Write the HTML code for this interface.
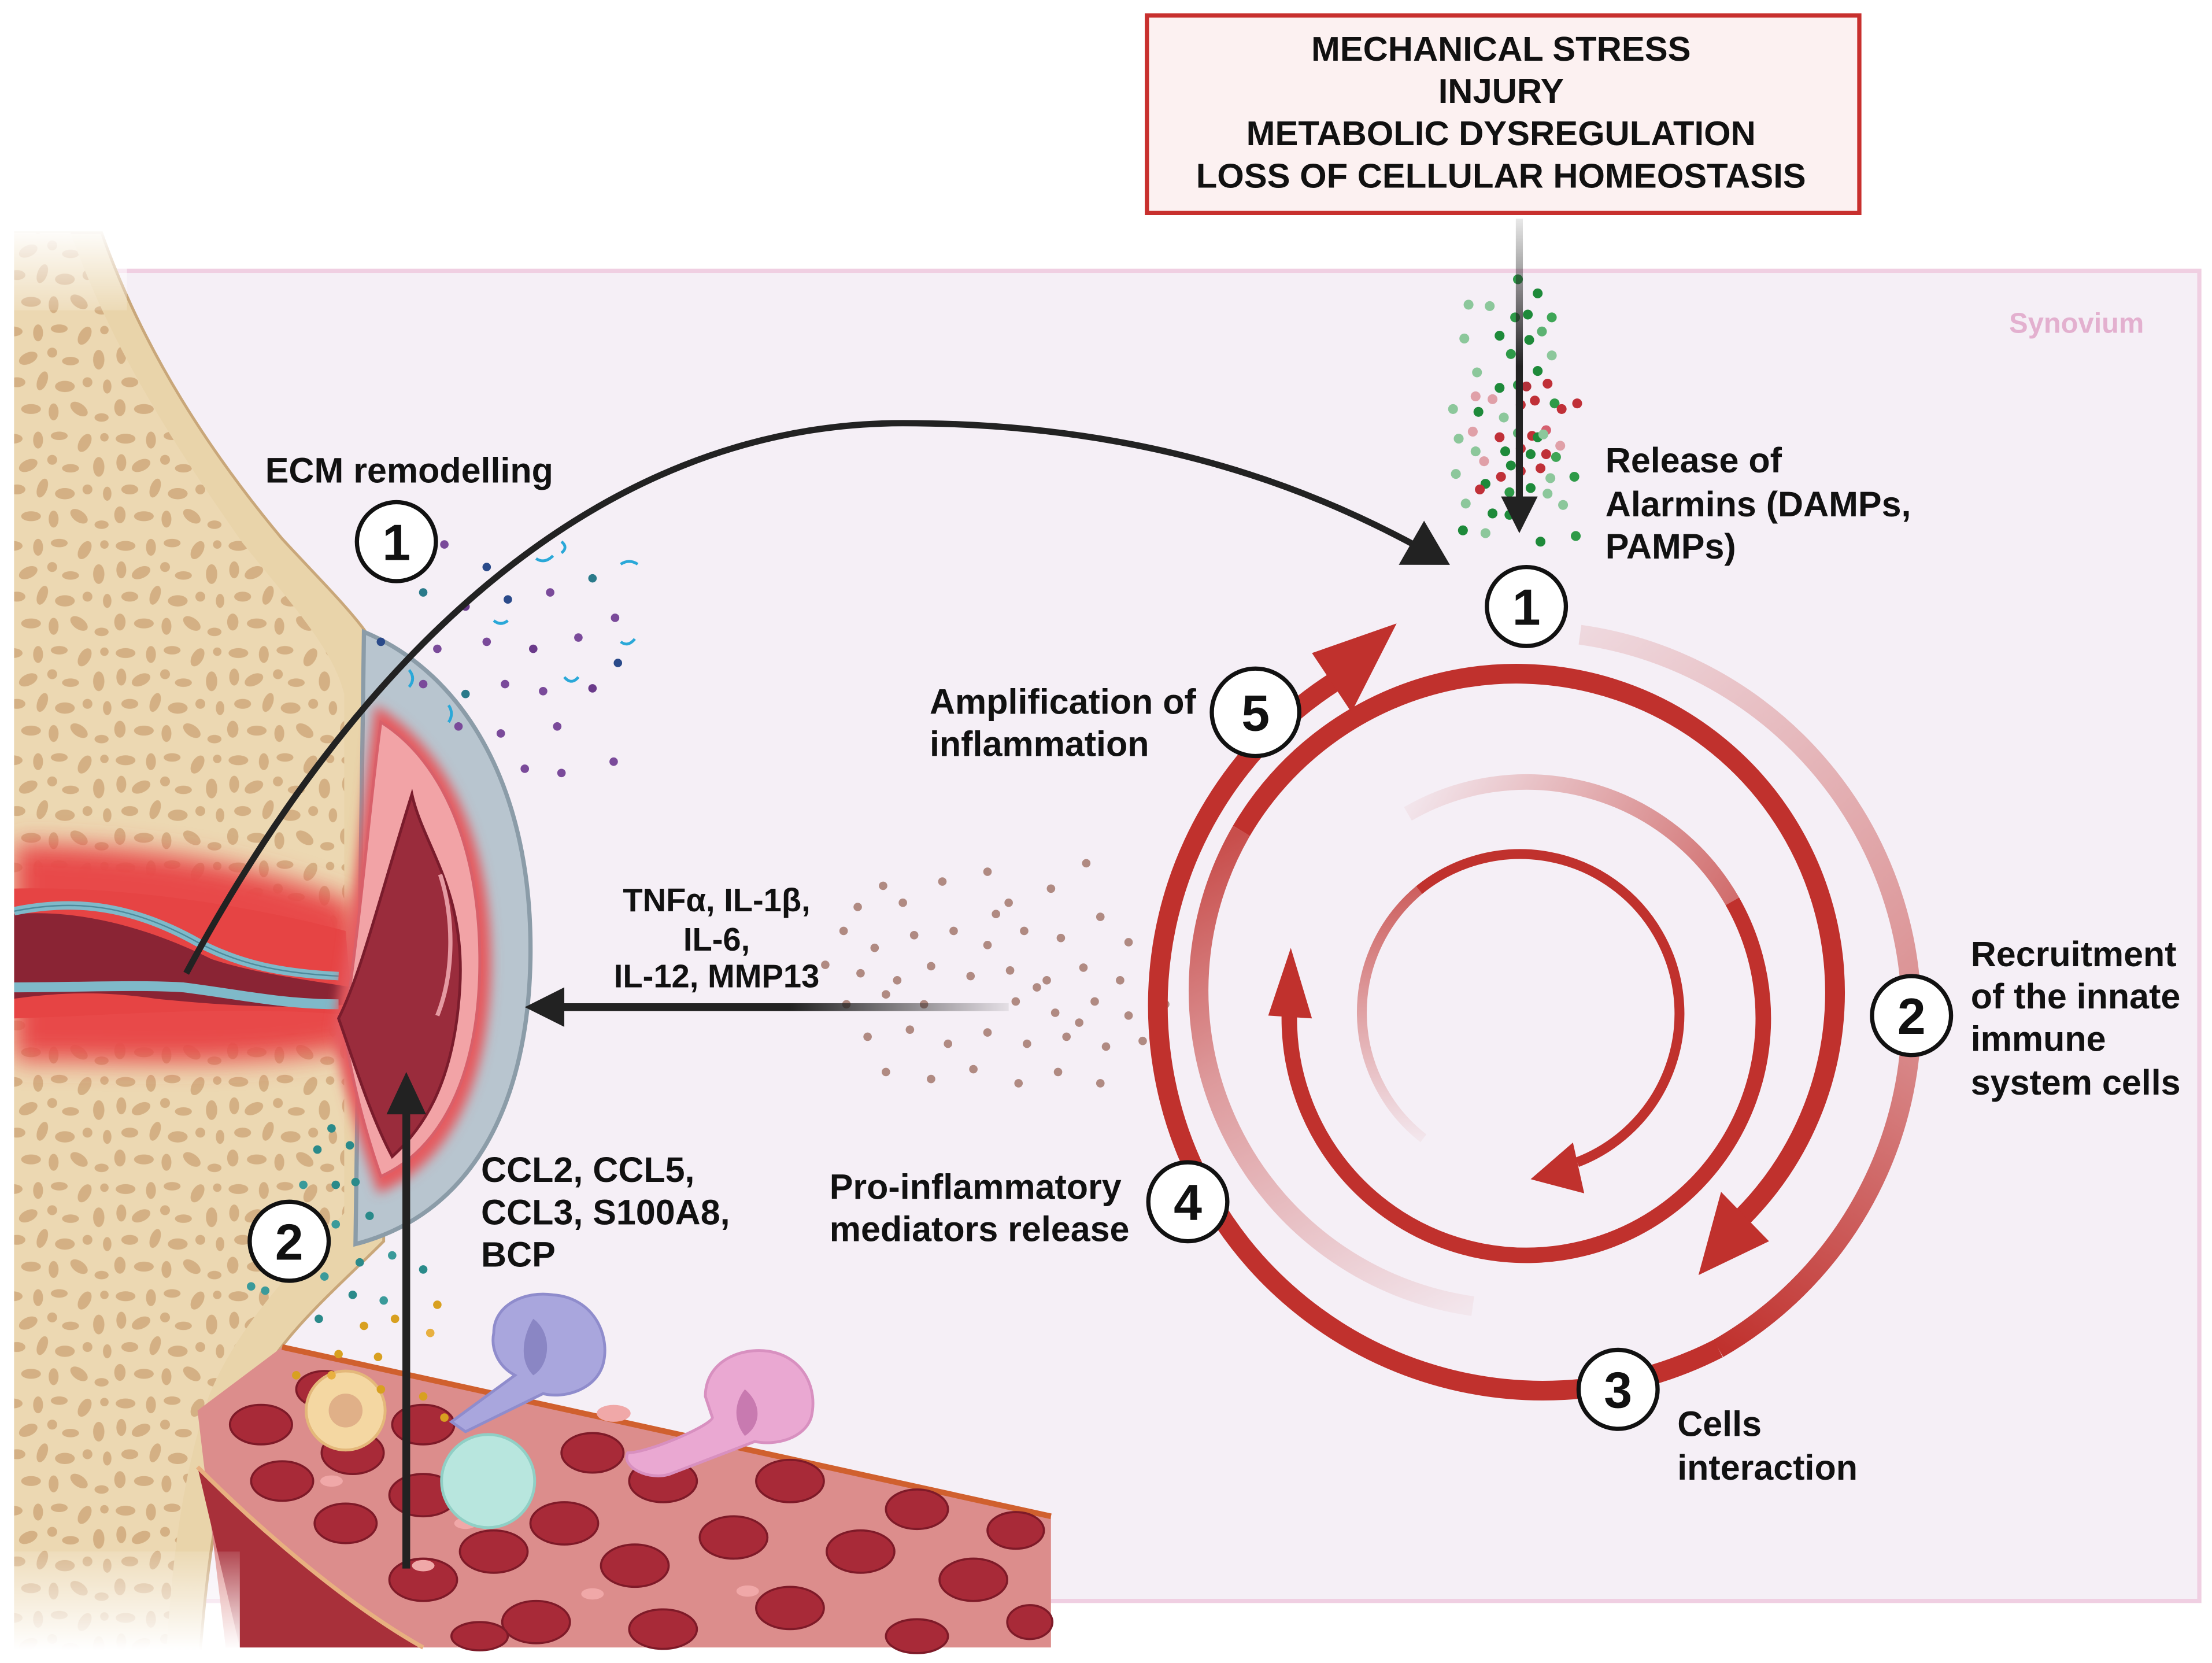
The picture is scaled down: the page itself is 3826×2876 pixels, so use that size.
<!DOCTYPE html>
<html><head><meta charset="utf-8"><style>
html,body{margin:0;padding:0;background:#fff;}
svg{display:block;}
text{font-family:"Liberation Sans",Arial,sans-serif;font-weight:bold;}
</style></head><body>
<svg width="3826" height="2876" viewBox="0 0 1568 1179" preserveAspectRatio="none" xmlns="http://www.w3.org/2000/svg">
<defs>
<pattern id="sp" width="80" height="76" patternUnits="userSpaceOnUse">
<rect width="80" height="76" fill="#ecd8b2"/>
<g fill="#d4b084">
<ellipse cx="9" cy="7" rx="7" ry="3.5"/><ellipse cx="27" cy="8" rx="3.5" ry="6"/><ellipse cx="42" cy="5" rx="6" ry="3"/><ellipse cx="60" cy="10" rx="4" ry="7" transform="rotate(30 60 10)"/><circle cx="74" cy="6" r="3"/>
<ellipse cx="6" cy="24" rx="3.5" ry="6"/><ellipse cx="20" cy="26" rx="7" ry="4" transform="rotate(-25 20 26)"/><circle cx="37" cy="22" r="3.5"/><ellipse cx="50" cy="28" rx="6" ry="3"/><ellipse cx="70" cy="27" rx="4" ry="7"/>
<ellipse cx="12" cy="43" rx="6" ry="3.5"/><ellipse cx="30" cy="42" rx="3.5" ry="7" transform="rotate(20 30 42)"/><ellipse cx="46" cy="46" rx="7" ry="4"/><circle cx="62" cy="43" r="3.5"/><ellipse cx="76" cy="46" rx="3" ry="5"/>
<ellipse cx="5" cy="61" rx="4" ry="6"/><ellipse cx="22" cy="62" rx="7" ry="3.5"/><ellipse cx="38" cy="64" rx="3.5" ry="6"/><ellipse cx="56" cy="62" rx="7" ry="4" transform="rotate(35 56 62)"/><ellipse cx="72" cy="68" rx="5" ry="3"/>
</g>
</pattern>
<filter id="bl" x="-30%" y="-30%" width="160%" height="160%"><feGaussianBlur stdDeviation="9"/></filter>
<filter id="bl2" x="-30%" y="-30%" width="160%" height="160%"><feGaussianBlur stdDeviation="4"/></filter>
<linearGradient id="gTop" x1="0" y1="155" x2="0" y2="260" gradientUnits="userSpaceOnUse"><stop offset="0" stop-color="#222" stop-opacity="0.1"/><stop offset="1" stop-color="#222"/></linearGradient>
<linearGradient id="gH" x1="720" y1="0" x2="560" y2="0" gradientUnits="userSpaceOnUse"><stop offset="0" stop-color="#222" stop-opacity="0.05"/><stop offset="1" stop-color="#222"/></linearGradient>
<linearGradient id="gO1" x1="1120" y1="450" x2="1355" y2="720" gradientUnits="userSpaceOnUse"><stop offset="0" stop-color="#c0312d" stop-opacity="0.12"/><stop offset="1" stop-color="#c0312d" stop-opacity="0.5"/></linearGradient>
<linearGradient id="gO2" x1="1355" y1="720" x2="1218" y2="956" gradientUnits="userSpaceOnUse"><stop offset="0" stop-color="#c0312d" stop-opacity="0.5"/><stop offset="1" stop-color="#c0312d"/></linearGradient>
<linearGradient id="gM1" x1="1044" y1="926" x2="880" y2="589" gradientUnits="userSpaceOnUse"><stop offset="0" stop-color="#c0312d" stop-opacity="0.05"/><stop offset="0.6" stop-color="#c0312d" stop-opacity="0.45"/><stop offset="1" stop-color="#c0312d" stop-opacity="0.85"/></linearGradient>
<linearGradient id="gR1" x1="996" y1="574" x2="1250" y2="723" gradientUnits="userSpaceOnUse"><stop offset="0" stop-color="#c0312d" stop-opacity="0.05"/><stop offset="1" stop-color="#c0312d" stop-opacity="0.85"/></linearGradient>
<linearGradient id="gI1" x1="1009" y1="807" x2="1006" y2="631" gradientUnits="userSpaceOnUse"><stop offset="0" stop-color="#c0312d" stop-opacity="0.05"/><stop offset="1" stop-color="#c0312d" stop-opacity="0.75"/></linearGradient>
<linearGradient id="fadeTop" x1="0" y1="160" x2="0" y2="230" gradientUnits="userSpaceOnUse"><stop offset="0" stop-color="#fff"/><stop offset="1" stop-color="#fff" stop-opacity="0"/></linearGradient>
<linearGradient id="fadeBot" x1="0" y1="1170" x2="0" y2="1090" gradientUnits="userSpaceOnUse"><stop offset="0" stop-color="#fff"/><stop offset="1" stop-color="#fff" stop-opacity="0"/></linearGradient>
<marker id="ah" markerWidth="8" markerHeight="8" refX="5" refY="4" orient="auto" markerUnits="strokeWidth"><path d="M0,0 L7,4 L0,8 Z" fill="#222"/></marker>
</defs>

<rect width="1568" height="1179" fill="#fff"/>
<rect x="65" y="192" width="1494" height="943" fill="#f5eff6" stroke="#f0cfe2" stroke-width="3"/>
<text x="1472" y="236" font-size="20" fill="#e3b0cf" text-anchor="middle">Synovium</text>

<rect x="813" y="11" width="505" height="140" fill="#fcf1f1" stroke="#c8302e" stroke-width="3"/>
<g font-size="24.5" fill="#111" text-anchor="middle">
<text x="1064" y="43">MECHANICAL STRESS</text>
<text x="1064" y="73">INJURY</text>
<text x="1064" y="103">METABOLIC DYSREGULATION</text>
<text x="1064" y="133">LOSS OF CELLULAR HOMEOSTASIS</text>
</g>

<g>
<circle cx="1076" cy="198" r="3.5" fill="#2e9a48"/><circle cx="1090" cy="208" r="3.5" fill="#1e8a3a"/>
<circle cx="1041" cy="216" r="3.5" fill="#8cc79b"/><circle cx="1056" cy="217" r="3.5" fill="#8cc79b"/>
<circle cx="1074" cy="225" r="3.5" fill="#2e9a48"/><circle cx="1083" cy="223" r="3.5" fill="#1e8a3a"/><circle cx="1100" cy="225" r="3.5" fill="#3ea556"/>
<circle cx="1038" cy="240" r="3.5" fill="#8cc79b"/><circle cx="1063" cy="238" r="3.5" fill="#1e8a3a"/><circle cx="1084" cy="241" r="3.5" fill="#1e8a3a"/><circle cx="1093" cy="235" r="3.5" fill="#5cb272"/>
<circle cx="1071" cy="251" r="3.5" fill="#2e9a48"/><circle cx="1100" cy="252" r="3.5" fill="#8cc79b"/>
<circle cx="1047" cy="264" r="3.5" fill="#8cc79b"/><circle cx="1090" cy="263" r="3.5" fill="#1e8a3a"/><circle cx="1082" cy="274" r="3.5" fill="#b3303a"/>
<circle cx="1063" cy="275" r="3.5" fill="#1e8a3a"/><circle cx="1076" cy="273" r="3.5" fill="#2e9a48"/><circle cx="1097" cy="272" r="3.5" fill="#c03038"/>
<circle cx="1046" cy="281" r="3.5" fill="#e0a0a8"/><circle cx="1058" cy="283" r="3.5" fill="#e0a0a8"/><circle cx="1088" cy="284" r="3.5" fill="#c03038"/><circle cx="1078" cy="287" r="3.5" fill="#c03038"/><circle cx="1102" cy="286" r="3.5" fill="#2e9a48"/><circle cx="1107" cy="290" r="3.5" fill="#c03038"/>
<circle cx="1048" cy="292" r="3.5" fill="#1e8a3a"/><circle cx="1066" cy="296" r="3.5" fill="#8cc79b"/><circle cx="1096" cy="305" r="3.5" fill="#d66070"/>
<circle cx="1034" cy="311" r="3.5" fill="#8cc79b"/><circle cx="1044" cy="306" r="3.5" fill="#e0a0a8"/><circle cx="1063" cy="310" r="3.5" fill="#c03038"/><circle cx="1076" cy="307" r="3.5" fill="#5cb272"/><circle cx="1086" cy="309" r="3.5" fill="#c03038"/><circle cx="1090" cy="310" r="3.5" fill="#1e8a3a"/><circle cx="1094" cy="308" r="3.5" fill="#8cc79b"/>
<circle cx="1046" cy="320" r="3.5" fill="#8cc79b"/><circle cx="1067" cy="320" r="3.5" fill="#1e8a3a"/><circle cx="1078" cy="318" r="3.5" fill="#c03038"/><circle cx="1085" cy="322" r="3.5" fill="#1e8a3a"/><circle cx="1106" cy="316" r="3.5" fill="#e0a0a8"/><circle cx="1096" cy="322" r="3.5" fill="#c03038"/><circle cx="1103" cy="324" r="3.5" fill="#3ea556"/>
<circle cx="1052" cy="327" r="3.5" fill="#e0a0a8"/><circle cx="1071" cy="330" r="3.5" fill="#1e8a3a"/><circle cx="1092" cy="332" r="3.5" fill="#c03038"/><circle cx="1099" cy="339" r="3.5" fill="#8cc79b"/><circle cx="1064" cy="338" r="3.5" fill="#c03038"/><circle cx="1078" cy="334" r="3.5" fill="#c03038"/>
<circle cx="1032" cy="336" r="3.5" fill="#8cc79b"/><circle cx="1053" cy="343" r="3.5" fill="#1e8a3a"/><circle cx="1049" cy="347" r="3.5" fill="#c03038"/><circle cx="1070" cy="349" r="3.5" fill="#2e9a48"/><circle cx="1085" cy="346" r="3.5" fill="#1e8a3a"/><circle cx="1097" cy="350" r="3.5" fill="#8cc79b"/>
<circle cx="1039" cy="357" r="3.5" fill="#8cc79b"/><circle cx="1058" cy="364" r="3.5" fill="#1e8a3a"/><circle cx="1076" cy="361" r="3.5" fill="#3ea556"/><circle cx="1070" cy="365" r="3.5" fill="#1e8a3a"/>
<circle cx="1037" cy="376" r="3.5" fill="#1e8a3a"/><circle cx="1053" cy="378" r="3.5" fill="#8cc79b"/><circle cx="1092" cy="384" r="3.5" fill="#1e8a3a"/><circle cx="1117" cy="380" r="3.5" fill="#2e9a48"/>
<circle cx="1108" cy="358" r="3.5" fill="#8cc79b"/><circle cx="1116" cy="338" r="3.5" fill="#2e9a48"/><circle cx="1118" cy="286" r="3.5" fill="#c03038"/><circle cx="1030" cy="290" r="3.5" fill="#8cc79b"/>
</g>
<line x1="1077" y1="155" x2="1077" y2="355" stroke="url(#gTop)" stroke-width="5"/>
<polygon points="1077,378 1064,352 1090,352" fill="#222"/>

<g fill="#b08a82">
<circle cx="626" cy="628" r="3"/><circle cx="608" cy="643" r="3"/><circle cx="640" cy="640" r="3"/><circle cx="668" cy="625" r="3"/><circle cx="700" cy="618" r="3"/><circle cx="715" cy="640" r="3"/><circle cx="745" cy="630" r="3"/><circle cx="770" cy="612" r="3"/>
<circle cx="598" cy="660" r="3"/><circle cx="620" cy="672" r="3"/><circle cx="648" cy="663" r="3"/><circle cx="676" cy="660" r="3"/><circle cx="700" cy="670" r="3"/><circle cx="726" cy="660" r="3"/><circle cx="752" cy="665" r="3"/><circle cx="780" cy="650" r="3"/><circle cx="800" cy="668" r="3"/>
<circle cx="585" cy="684" r="3"/><circle cx="610" cy="690" r="3"/><circle cx="636" cy="695" r="3"/><circle cx="660" cy="685" r="3"/><circle cx="688" cy="692" r="3"/><circle cx="716" cy="688" r="3"/><circle cx="742" cy="695" r="3"/><circle cx="768" cy="686" r="3"/><circle cx="794" cy="695" r="3"/><circle cx="818" cy="688" r="3"/>
<circle cx="600" cy="712" r="3"/><circle cx="628" cy="705" r="3"/><circle cx="655" cy="712" r="3"/><circle cx="720" cy="710" r="3"/><circle cx="748" cy="718" r="3"/><circle cx="776" cy="710" r="3"/><circle cx="800" cy="720" r="3"/><circle cx="826" cy="712" r="3"/>
<circle cx="615" cy="735" r="3"/><circle cx="645" cy="730" r="3"/><circle cx="672" cy="740" r="3"/><circle cx="700" cy="732" r="3"/><circle cx="728" cy="740" r="3"/><circle cx="756" cy="735" r="3"/><circle cx="784" cy="742" r="3"/><circle cx="810" cy="738" r="3"/>
<circle cx="628" cy="760" r="3"/><circle cx="660" cy="765" r="3"/><circle cx="690" cy="758" r="3"/><circle cx="722" cy="768" r="3"/><circle cx="750" cy="760" r="3"/><circle cx="780" cy="768" r="3"/><circle cx="706" cy="648" r="3"/><circle cx="735" cy="700" r="3"/><circle cx="765" cy="725" r="3"/>
</g>

<g fill="none" stroke-linecap="butt">
<path d="M1120,450 A273,273 0 0 1 1355,720" stroke="url(#gO1)" stroke-width="14"/>
<path d="M1355,720 A273,273 0 0 1 1218,956" stroke="url(#gO2)" stroke-width="14"/>
<path d="M1218,956 A273,273 0 0 1 945,484" stroke="#c0312d" stroke-width="14"/>
<path d="M1044,926 A226,226 0 0 1 880,589" stroke="url(#gM1)" stroke-width="14"/>
<path d="M880,589 A226,226 0 1 1 1236,862" stroke="#c0312d" stroke-width="14"/>
<path d="M998,577 A168,168 0 0 1 1228,639" stroke="url(#gR1)" stroke-width="11"/>
<path d="M1228,639 A168,168 0 1 1 914,717" stroke="#c0312d" stroke-width="11"/>
<path d="M1009,807 A113,113 0 0 1 1006,631" stroke="url(#gI1)" stroke-width="7"/>
<path d="M1006,631 A113,113 0 1 1 1118,824" stroke="#c0312d" stroke-width="7"/>
</g>
<polygon points="990,442 930,463 958,505" fill="#c0312d"/>
<polygon points="1204,904 1254,880 1220,845" fill="#c0312d"/>
<polygon points="915,672 899,720 930,722" fill="#c0312d"/>
<polygon points="1085,836 1123,846 1115,810" fill="#c0312d"/>

<!-- LEFT ANATOMY -->
<path d="M10,165 L72,165 C102,250 150,322 200,382 C235,420 262,445 272,470 L272,880 C232,920 192,952 172,1002 C152,1062 146,1122 142,1170 L10,1170 Z" fill="#e9d4aa" stroke="#c9a77a" stroke-width="2"/>
<path d="M10,165 L50,165 C80,250 128,322 172,385 C208,430 236,460 244,492 L244,860 C208,900 168,940 148,990 C128,1050 122,1110 118,1170 L10,1170 Z" fill="url(#sp)"/>
<path d="M10,598 C80,600 160,605 250,640 L262,740 C170,760 80,750 10,752 Z" fill="#e84848" filter="url(#bl)"/>
<path d="M10,630 C80,628 170,640 245,660 L250,720 C170,712 80,720 10,722 Z" fill="#e64444"/>
<path d="M10,648 C60,644 110,660 150,680 C180,690 220,695 250,700 L250,712 C200,716 150,712 110,708 C70,702 40,704 10,708 Z" fill="#8a2434"/>
<path d="M10,646 C50,638 90,640 140,668 C170,684 200,690 240,692" fill="none" stroke="#7fb9c9" stroke-width="6"/>
<path d="M10,700 C50,700 100,698 130,700 C170,705 200,712 240,712" fill="none" stroke="#7fb9c9" stroke-width="7"/>
<path d="M10,646 C50,638 90,640 140,668 C170,684 200,690 240,692" fill="none" stroke="#4d8a9c" stroke-width="1"/>
<path d="M258,448 C330,478 378,560 376,680 C374,790 330,862 252,882 Z" fill="#b8c5cf" stroke="#8b9ca8" stroke-width="3"/>
<path d="M266,500 C318,530 350,600 348,690 C346,770 318,826 268,846 C252,800 240,760 236,730 C250,650 258,560 266,500 Z" fill="#e55a5e" filter="url(#bl2)"/>
<path d="M270,512 C315,540 342,605 340,690 C338,765 312,815 270,834 C258,800 248,760 244,728 C256,650 262,570 270,512 Z" fill="#f2a3a6" stroke="#d8606a" stroke-width="2"/>
<path d="M292,563 C300,600 330,630 326,700 C322,768 300,800 278,820 C262,790 250,750 240,722 C256,690 268,640 292,563 Z" fill="#9a2c3c" stroke="#7a1c2c" stroke-width="2"/>
<path d="M312,620 C322,650 322,690 310,720" fill="none" stroke="#e59aa2" stroke-width="3"/>

<g>
<circle cx="315" cy="386" r="3" fill="#7a4a9a"/><circle cx="345" cy="402" r="3" fill="#2a4a8a"/><circle cx="300" cy="420" r="3" fill="#2a7a8a"/><circle cx="330" cy="430" r="3" fill="#6a3a8a"/><circle cx="360" cy="425" r="3" fill="#2a4a8a"/><circle cx="390" cy="420" r="3" fill="#7a4a9a"/><circle cx="420" cy="410" r="3" fill="#2a7a8a"/><circle cx="436" cy="438" r="3" fill="#7a4a9a"/>
<circle cx="270" cy="455" r="3" fill="#2a4a8a"/><circle cx="310" cy="460" r="3" fill="#7a4a9a"/><circle cx="345" cy="455" r="3" fill="#7a4a9a"/><circle cx="378" cy="460" r="3" fill="#6a3a8a"/><circle cx="410" cy="452" r="3" fill="#7a4a9a"/><circle cx="438" cy="470" r="3" fill="#2a4a8a"/>
<circle cx="300" cy="485" r="3" fill="#7a4a9a"/><circle cx="330" cy="492" r="3" fill="#2a7a8a"/><circle cx="358" cy="485" r="3" fill="#7a4a9a"/><circle cx="385" cy="490" r="3" fill="#7a4a9a"/><circle cx="420" cy="488" r="3" fill="#6a3a8a"/>
<circle cx="325" cy="515" r="3" fill="#7a4a9a"/><circle cx="355" cy="520" r="3" fill="#7a4a9a"/><circle cx="395" cy="515" r="3" fill="#7a4a9a"/><circle cx="372" cy="545" r="3" fill="#7a4a9a"/><circle cx="398" cy="548" r="3" fill="#7a4a9a"/><circle cx="435" cy="540" r="3" fill="#7a4a9a"/>
<path d="M283,408 q5,-5 0,-10 M380,396 q6,4 12,-2 M398,392 q5,-4 0,-8 M350,440 q5,4 10,0 M440,400 q6,-4 12,0 M440,455 q5,4 10,-2 M318,500 q4,6 0,12 M400,480 q5,6 10,0 M290,475 q5,6 0,12" fill="none" stroke="#2aa8d8" stroke-width="2"/>
</g>

<path d="M140,1000 L200,955 L745,1075 L745,1168 L160,1168 Z" fill="#dc8d8c"/>
<path d="M200,955 L745,1075" stroke="#d0602e" stroke-width="4"/>
<path d="M140,1040 C190,1090 250,1140 300,1168 L170,1168 Z" fill="#a8303a"/>
<path d="M140,1040 C190,1090 250,1140 300,1168" fill="none" stroke="#e8b080" stroke-width="3"/>
<g fill="#a82a38" stroke="#7e1a28" stroke-width="1.5">
<ellipse cx="185" cy="1010" rx="22" ry="14"/><ellipse cx="230" cy="985" rx="20" ry="13"/><ellipse cx="200" cy="1050" rx="22" ry="14"/><ellipse cx="250" cy="1030" rx="22" ry="15"/>
<ellipse cx="300" cy="1010" rx="22" ry="14"/><ellipse cx="245" cy="1080" rx="22" ry="14"/><ellipse cx="300" cy="1060" rx="24" ry="15"/><ellipse cx="350" cy="1040" rx="22" ry="14"/>
<ellipse cx="300" cy="1120" rx="24" ry="15"/><ellipse cx="350" cy="1100" rx="24" ry="15"/><ellipse cx="400" cy="1080" rx="24" ry="15"/><ellipse cx="420" cy="1030" rx="22" ry="14"/>
<ellipse cx="470" cy="1050" rx="24" ry="15"/><ellipse cx="450" cy="1110" rx="24" ry="15"/><ellipse cx="520" cy="1090" rx="24" ry="15"/><ellipse cx="560" cy="1050" rx="24" ry="15"/>
<ellipse cx="380" cy="1150" rx="24" ry="15"/><ellipse cx="470" cy="1155" rx="24" ry="14"/><ellipse cx="560" cy="1140" rx="24" ry="15"/><ellipse cx="610" cy="1100" rx="24" ry="15"/>
<ellipse cx="650" cy="1070" rx="22" ry="14"/><ellipse cx="690" cy="1120" rx="24" ry="15"/><ellipse cx="650" cy="1160" rx="22" ry="12"/><ellipse cx="720" cy="1085" rx="20" ry="13"/>
<ellipse cx="340" cy="1160" rx="20" ry="10"/><ellipse cx="730" cy="1150" rx="16" ry="12"/>
</g>
<g fill="#f0a8a8">
<ellipse cx="235" cy="1050" rx="8" ry="4"/><ellipse cx="330" cy="1080" rx="8" ry="4"/><ellipse cx="420" cy="1130" rx="8" ry="4"/><ellipse cx="530" cy="1128" rx="8" ry="4"/><ellipse cx="435" cy="1002" rx="12" ry="6"/><ellipse cx="300" cy="1110" rx="8" ry="4"/>
</g>
<path d="M350,945 C350,925 372,915 392,918 C420,920 432,945 428,965 C424,985 400,992 385,988 L330,1015 L320,1008 L365,975 C352,968 348,955 350,945 Z" fill="#a9a6dd" stroke="#8f8ccc" stroke-width="2"/>
<path d="M378,935 C392,945 390,968 378,975 C368,965 370,948 378,935 Z" fill="#8a86c4"/>
<circle cx="346" cy="1050" r="33" fill="#b8e6de" stroke="#90cfc5" stroke-width="2"/>
<circle cx="245" cy="1000" r="28" fill="#f4d7a2" stroke="#e4b87a" stroke-width="2"/>
<circle cx="245" cy="1000" r="12" fill="#e0b088"/>
<path d="M500,990 C500,965 525,955 545,958 C570,962 580,985 575,1005 C570,1020 550,1025 535,1022 L475,1045 C460,1050 440,1040 445,1030 C460,1030 505,1010 505,1005 Z" fill="#eaa8d2" stroke="#d890c0" stroke-width="2"/>
<path d="M528,985 C540,995 540,1010 528,1018 C520,1008 520,995 528,985 Z" fill="#c87ab0"/>
<g>
<circle cx="235" cy="800" r="3" fill="#2a8a8a"/><circle cx="225" cy="815" r="3" fill="#2a8a8a"/><circle cx="248" cy="812" r="3" fill="#2a8a8a"/><circle cx="215" cy="840" r="3" fill="#3a9a9a"/><circle cx="238" cy="840" r="3" fill="#2a8a8a"/><circle cx="252" cy="838" r="3" fill="#2a8a8a"/>
<circle cx="262" cy="862" r="3" fill="#2a8a8a"/><circle cx="238" cy="868" r="3" fill="#3a9a9a"/><circle cx="255" cy="895" r="3" fill="#2a8a8a"/><circle cx="278" cy="890" r="3" fill="#3a9a9a"/><circle cx="300" cy="900" r="3" fill="#2a8a8a"/>
<circle cx="230" cy="905" r="3" fill="#3a9a9a"/><circle cx="250" cy="918" r="3" fill="#2a8a8a"/><circle cx="272" cy="922" r="3" fill="#3a9a9a"/><circle cx="310" cy="925" r="3" fill="#d8a020"/><circle cx="188" cy="915" r="3" fill="#3a9a9a"/><circle cx="178" cy="912" r="3" fill="#3a9a9a"/>
<circle cx="258" cy="940" r="3" fill="#d8a020"/><circle cx="280" cy="935" r="3" fill="#d8a020"/><circle cx="305" cy="945" r="3" fill="#e8b040"/><circle cx="240" cy="960" r="3" fill="#d8a020"/><circle cx="268" cy="962" r="3" fill="#d8a020"/>
<circle cx="210" cy="975" r="3" fill="#d8a020"/><circle cx="235" cy="975" r="3" fill="#e8b040"/><circle cx="270" cy="985" r="3" fill="#d8a020"/><circle cx="300" cy="990" r="3" fill="#d8a020"/><circle cx="315" cy="1005" r="3" fill="#d8a020"/><circle cx="226" cy="935" r="3" fill="#2a8a8a"/>
</g>
<rect x="0" y="160" width="90" height="60" fill="url(#fadeTop)"/>
<rect x="0" y="1100" width="170" height="79" fill="url(#fadeBot)"/>
<rect x="0" y="150" width="10" height="1029" fill="#fff"/>

<path d="M132,690 C250,470 420,300 640,300 C820,300 940,350 1020,396" fill="none" stroke="#222" stroke-width="4.5" marker-end="url(#ah)"/>
<line x1="715" y1="714" x2="396" y2="714" stroke="url(#gH)" stroke-width="5.5"/>
<polygon points="372,714 400,700 400,728" fill="#222"/>
<line x1="288" y1="1112" x2="288" y2="786" stroke="#222" stroke-width="5.5"/>
<polygon points="288,760 274,790 302,790" fill="#222"/>

<g stroke="#111" stroke-width="3" fill="#fff">
<circle cx="281" cy="384" r="28"/><circle cx="205" cy="880" r="28"/><circle cx="1082" cy="430" r="28"/><circle cx="1355" cy="720" r="28"/><circle cx="1147" cy="985" r="28"/><circle cx="842" cy="852" r="28"/><circle cx="890" cy="505" r="31"/>
</g>
<g font-size="36" fill="#111" text-anchor="middle">
<text x="281" y="397">1</text><text x="205" y="893">2</text><text x="1082" y="443">1</text><text x="1355" y="733">2</text><text x="1147" y="998">3</text><text x="842" y="865">4</text><text x="890" y="518">5</text>
</g>

<g font-size="25" fill="#111">
<text x="188" y="342">ECM remodelling</text>
<text x="1138" y="335">Release of</text><text x="1138" y="366">Alarmins (DAMPs,</text><text x="1138" y="396">PAMPs)</text>
<text x="659" y="506">Amplification of</text><text x="659" y="536">inflammation</text>
<text x="588" y="850">Pro-inflammatory</text><text x="588" y="880">mediators release</text>
<text x="1397" y="685">Recruitment</text><text x="1397" y="715">of the innate</text><text x="1397" y="745">immune</text><text x="1397" y="776">system cells</text>
<text x="1189" y="1018">Cells</text><text x="1189" y="1049">interaction</text>
<text x="341" y="838">CCL2, CCL5,</text><text x="341" y="868">CCL3, S100A8,</text><text x="341" y="898">BCP</text>
</g>
<g font-size="23" fill="#111" text-anchor="middle">
<text x="508" y="646">TNFα, IL-1β,</text><text x="508" y="674">IL-6,</text><text x="508" y="700">IL-12, MMP13</text>
</g>
</svg>
</body></html>
